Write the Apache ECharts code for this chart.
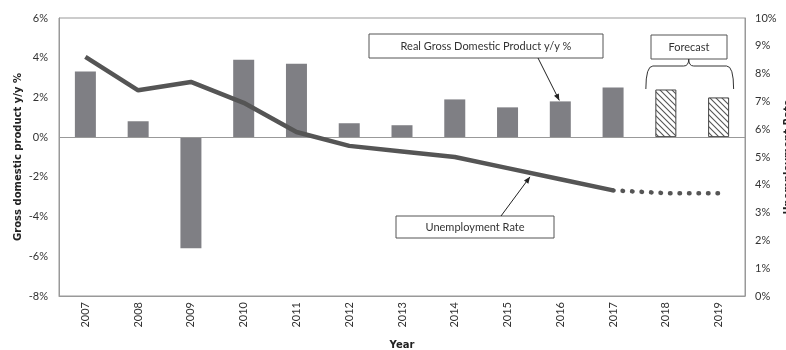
<!DOCTYPE html>
<html>
<head>
<meta charset="utf-8">
<script src="https://cdn.jsdelivr.net/npm/echarts@6/dist/echarts.min.js"></script>
<style>
html,body{margin:0;padding:0;background:#fff;}
#chart{width:786px;height:350px;}
</style>
</head>
<body>
<div id="chart"></div>
<script>
// ---- data ----
var years = ['2007','2008','2009','2010','2011','2012','2013','2014','2015','2016','2017','2018','2019'];
var gdp = [3.3, 0.8, -5.6, 3.9, 3.7, 0.7, 0.6, 1.9, 1.5, 1.8, 2.5, 2.4, 2.0];
var unemployment = [8.6, 7.4, 7.7, 6.95, 5.9, 5.4, 5.2, 5.0, 4.6, 4.2, 3.8, 3.7, 3.7];
var forecastYears = ['2018', '2019'];
var lastActualYear = '2017';
var leftTicks = {min: -8, max: 6, interval: 2};
var rightTicks = {min: 0, max: 10, interval: 1};

var FONT = 'Lato';
var TITLE_FONT = 'DejaVu Sans';
var lastIdx = years.indexOf(lastActualYear);

// hatch pattern for forecast bars
var pc = document.createElement('canvas');
pc.width = 6; pc.height = 6;
var pctx = pc.getContext('2d');
pctx.fillStyle = '#fff'; pctx.fillRect(0,0,6,6);
pctx.strokeStyle = '#555'; pctx.lineWidth = 1.1;
pctx.beginPath();
pctx.moveTo(-1,-1); pctx.lineTo(7,7);
pctx.moveTo(-4,2); pctx.lineTo(4,10);
pctx.moveTo(2,-4); pctx.lineTo(10,4);
pctx.stroke();

var barData = gdp.map(function(v, i){
  if (forecastYears.indexOf(years[i]) >= 0) {
    return {value: v, itemStyle: {color: {image: pc, repeat: 'repeat'}, borderColor: '#444', borderWidth: 1}};
  }
  return {value: v};
});
var solidData = unemployment.map(function(v, i){ return i <= lastIdx ? v : null; });
var dottedData = unemployment.map(function(v, i){ return i >= lastIdx ? v : null; });

var chart = echarts.init(document.getElementById('chart'), null, {renderer: 'canvas'});
var labelStyle = {color: '#333', fontFamily: FONT, fontSize: 11};

chart.setOption({
  animation: false,
  backgroundColor: '#fff',
  textStyle: {fontFamily: FONT},
  grid: {left: 59, right: 41, top: 18, bottom: 54, show: true, borderColor: '#999', borderWidth: 1,
         containLabel: false, outerBoundsMode: 'none'},
  xAxis: {
    type: 'category', data: years,
    name: 'Year', nameLocation: 'middle', nameGap: 44,
    nameTextStyle: {fontFamily: TITLE_FONT, fontWeight: 'bold', fontSize: 10, color: '#222'},
    axisLine: {onZero: false, lineStyle: {color: '#999'}},
    axisTick: {show: false},
    axisLabel: Object.assign({rotate: 90, margin: 6}, labelStyle)
  },
  yAxis: [{
    type: 'value', min: leftTicks.min, max: leftTicks.max, interval: leftTicks.interval,
    name: 'Gross domestic product y/y %', nameLocation: 'middle', nameGap: 36, nameRotate: 90,
    nameMoveOverlap: false,
    nameTextStyle: {fontFamily: TITLE_FONT, fontWeight: 'bold', fontSize: 10, color: '#222'},
    axisLine: {show: true, lineStyle: {color: '#999'}},
    axisTick: {show: false},
    splitLine: {show: false},
    axisLabel: Object.assign({formatter: '{value}%', margin: 11}, labelStyle)
  }, {
    type: 'value', min: rightTicks.min, max: rightTicks.max, interval: rightTicks.interval,
    position: 'right',
    name: 'Unemployment Rate', nameLocation: 'middle', nameGap: 38, nameRotate: 90,
    nameMoveOverlap: false,
    nameTextStyle: {fontFamily: TITLE_FONT, fontWeight: 'bold', fontSize: 10, color: '#222'},
    axisLine: {show: true, lineStyle: {color: '#999'}},
    axisTick: {show: false},
    splitLine: {show: false},
    axisLabel: Object.assign({formatter: '{value}%', margin: 10}, labelStyle)
  }],
  series: [{
    type: 'bar', yAxisIndex: 0, data: barData, barWidth: 21,
    itemStyle: {color: '#7f7f84'},
    markLine: {
      silent: true, symbol: 'none', label: {show: false},
      lineStyle: {color: '#999', width: 1, type: 'solid'},
      data: [{yAxis: 0}]
    }
  }, {
    type: 'line', yAxisIndex: 1, data: solidData, symbol: 'none',
    lineStyle: {color: '#555', width: 4.5}, z: 5
  }, {
    type: 'line', yAxisIndex: 1, data: dottedData, symbol: 'none',
    lineStyle: {color: '#555', width: 4.5, type: [0.5, 9], cap: 'round'}, z: 5
  }]
});

// ---- annotations ----
function box(x, y, w, h, text) {
  return [{
    type: 'rect', shape: {x: x, y: y, width: w, height: h},
    style: {fill: '#fff', stroke: '#555', lineWidth: 1}, z: 10
  }, {
    type: 'text', x: x + w / 2, y: y + h / 2,
    style: {text: text, fill: '#333', font: '11px ' + FONT, align: 'center', verticalAlign: 'middle'}, z: 11
  }];
}
function arrow(x1, y1, x2, y2) {
  var ang = Math.atan2(y2 - y1, x2 - x1), L = 7, a = 0.4;
  return [{
    type: 'line', shape: {x1: x1, y1: y1, x2: x2, y2: y2},
    style: {stroke: '#222', lineWidth: 1}, z: 10
  }, {
    type: 'polygon',
    shape: {points: [[x2, y2],
      [x2 - L * Math.cos(ang - a), y2 - L * Math.sin(ang - a)],
      [x2 - L * Math.cos(ang + a), y2 - L * Math.sin(ang + a)]]},
    style: {fill: '#222'}, z: 10
  }];
}
function seg(x1, y1, x2, y2) {
  return {type: 'line', shape: {x1: x1, y1: y1, x2: x2, y2: y2}, style: {stroke: '#333', lineWidth: 1}, z: 10};
}
function curve(x1, y1, cx, cy, x2, y2) {
  return {type: 'bezierCurve', shape: {x1: x1, y1: y1, cpx1: cx, cpy1: cy, x2: x2, y2: y2},
          style: {stroke: '#333', lineWidth: 1, fill: null}, z: 10};
}
var i2016 = years.indexOf('2016');
var tipGdp = chart.convertToPixel({xAxisIndex: 0, yAxisIndex: 0}, [i2016, gdp[i2016]]);
var p2015 = chart.convertToPixel({xAxisIndex: 0, yAxisIndex: 1}, [8, unemployment[8]]);
var p2016 = chart.convertToPixel({xAxisIndex: 0, yAxisIndex: 1}, [9, unemployment[9]]);
var tx = 530, ty = p2015[1] + (p2016[1] - p2015[1]) * (tx - p2015[0]) / (p2016[0] - p2015[0]) + 4;
var f1 = chart.convertToPixel({xAxisIndex: 0, yAxisIndex: 0}, [years.indexOf(forecastYears[0]), 0]);
var f2 = chart.convertToPixel({xAxisIndex: 0, yAxisIndex: 0}, [years.indexOf(forecastYears[1]), 0]);
var bl = f1[0] - 20, br = f2[0] + 15, bm = (bl + br) / 2 - 1, bt = 66, bb = 89;

var els = [];
els = els.concat(box(369, 34, 234, 24, 'Real Gross Domestic Product y/y %'));
els = els.concat(arrow(538, 58, tipGdp[0] - 1, tipGdp[1] - 1));
els = els.concat(box(651, 35, 76, 24, 'Forecast'));
els = els.concat(box(396, 216, 158, 22, 'Unemployment Rate'));
els = els.concat(arrow(501, 216, tx, ty));
els.push(curve(bl, bb, bl, bt, bl + 7, bt));
els.push(seg(bl + 7, bt, bm - 5, bt));
els.push(curve(bm - 5, bt, bm, bt, bm, bt - 7));
els.push(curve(bm, bt - 7, bm, bt, bm + 5, bt));
els.push(seg(bm + 5, bt, br - 7, bt));
els.push(curve(br - 7, bt, br, bt, br, bb));
chart.setOption({graphic: {elements: els}});
</script>
</body>
</html>
